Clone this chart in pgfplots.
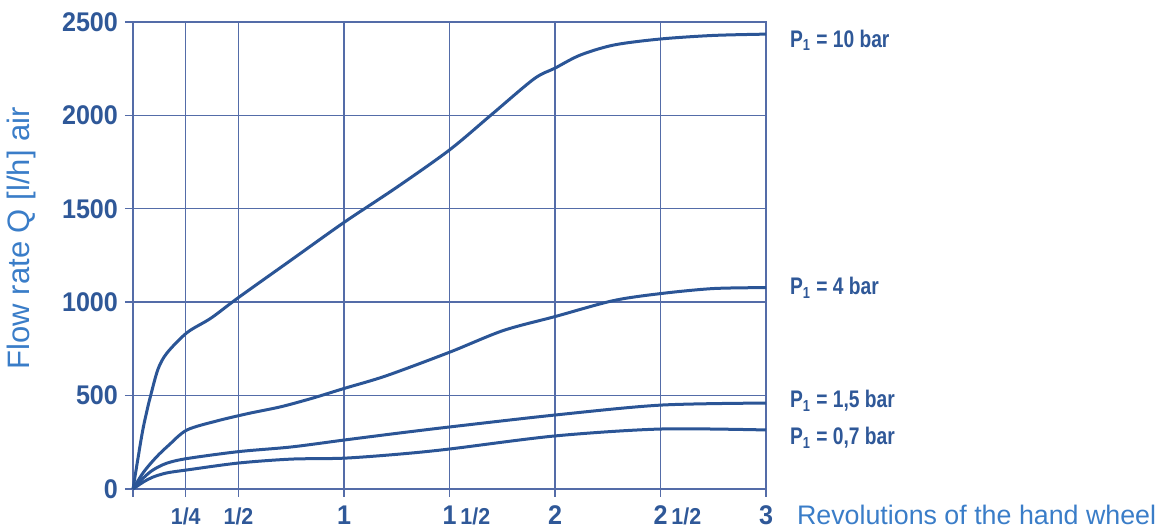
\documentclass[border=0pt]{standalone}
\usepackage{fontspec}
\setmainfont{Liberation Sans}
\newfontfamily\tickfont{Liberation Sans}[FakeStretch=0.93]
\newfontfamily\pfont{Liberation Sans}[FakeStretch=0.8]
\usepackage{pgfplots}
\pgfplotsset{compat=1.18}

\definecolor{gridc}{RGB}{84,108,168}
\definecolor{curvec}{RGB}{43,85,150}
\definecolor{tickc}{RGB}{47,88,152}
\definecolor{labc}{RGB}{58,125,200}

\tikzset{curve/.style={curvec, line width=1.5pt, smooth, no markers}}
\newcommand\fr[1]{{\fontsize{11.5}{13}\selectfont #1}}
\newcommand\plab[1]{{\pfont\bfseries\fontsize{12}{14}\selectfont P\textsubscript{1} = #1 bar}}

\begin{document}
\begin{tikzpicture}
\begin{axis}[
    name=ax,
    scale only axis,
    width=316.5pt, height=233.5pt,
    xmin=0, xmax=3, ymin=0, ymax=2500,
    clip=false,
    xtick={0,0.25,0.5,1,1.5,2,2.5,3},
    xticklabels={,\fr{1/4},\fr{1/2},1,{1\rlap{\hspace{2pt}\fr{1/2}}},2,{2\rlap{\hspace{2pt}\fr{1/2}}},3},
    ytick={0,500,1000,1500,2000,2500},
    yticklabels={0,500,1000,1500,2000,2500},
    xtick pos=bottom, ytick pos=left,
    tick align=outside,
    major tick length=4pt,
    tick style={gridc, line width=0.7pt},
    grid=major,
    major grid style={gridc, line width=0.7pt},
    axis line style={gridc, line width=0.75pt},
    ticklabel style={font=\tickfont\bfseries\fontsize{13.5}{16}\selectfont, text=tickc},
    xticklabel style={anchor=base, yshift=-14pt},
    xlabel={Revolutions of the hand wheel},
    xlabel style={at={(rel axis cs:1,0)}, anchor=base west, xshift=12pt, yshift=-18pt,
        font=\fontsize{13.4}{16}\selectfont, text=labc},
    ylabel={Flow rate Q [l/h] air},
    ylabel style={at={(rel axis cs:-0.1754,0.537)}, anchor=center,
        font=\fontsize{15.5}{18}\selectfont, text=labc},
]
% P1 = 10 bar
\addplot[curve] coordinates {(0,0) (0.043,295) (0.066,418) (0.081,488) (0.118,640) (0.161,728)
    (0.256,837) (0.37,915) (0.5,1025) (0.75,1226) (1,1427) (1.25,1615) (1.5,1815)
    (1.7,2005) (1.9,2195) (2,2253) (2.12,2323) (2.28,2377) (2.5,2409)
    (2.75,2428) (3,2435)};
% P1 = 4 bar
\addplot[curve] coordinates {(0,0) (0.05,90) (0.11,170) (0.17,235) (0.256,316) (0.4,365)
    (0.55,405) (0.7,440) (0.85,486) (1,538) (1.2,606) (1.5,732) (1.754,848) (2,923)
    (2.275,1008) (2.5,1046) (2.75,1073) (3,1078)};
% P1 = 1,5 bar
\addplot[curve] coordinates {(0,0) (0.05,60) (0.095,102) (0.16,138) (0.256,163) (0.5,200)
    (0.75,225) (1,262) (1.265,300) (1.5,332) (2,396) (2.5,449) (3,460)};
% P1 = 0,7 bar
\addplot[curve] coordinates {(0,0) (0.05,38) (0.095,64) (0.16,86) (0.256,102) (0.5,139)
    (0.75,160) (1,165) (1.265,187) (1.5,214) (2,284) (2.5,321) (3,316)};

\node[anchor=base west, xshift=8.5pt, text=tickc] at (axis cs:3,2366) {\plab{10}};
\node[anchor=base west, xshift=8.5pt, text=tickc] at (axis cs:3,1039) {\plab{4}};
\node[anchor=base west, xshift=8.5pt, text=tickc] at (axis cs:3,434) {\plab{1,5}};
\node[anchor=base west, xshift=8.5pt, text=tickc] at (axis cs:3,236) {\plab{0,7}};
\end{axis}
\pgfresetboundingbox
\path ([shift={(-66.5pt,-19.5pt)}]ax.south west) rectangle ([shift={(514pt,244.5pt)}]ax.south west);
\end{tikzpicture}
\end{document}
